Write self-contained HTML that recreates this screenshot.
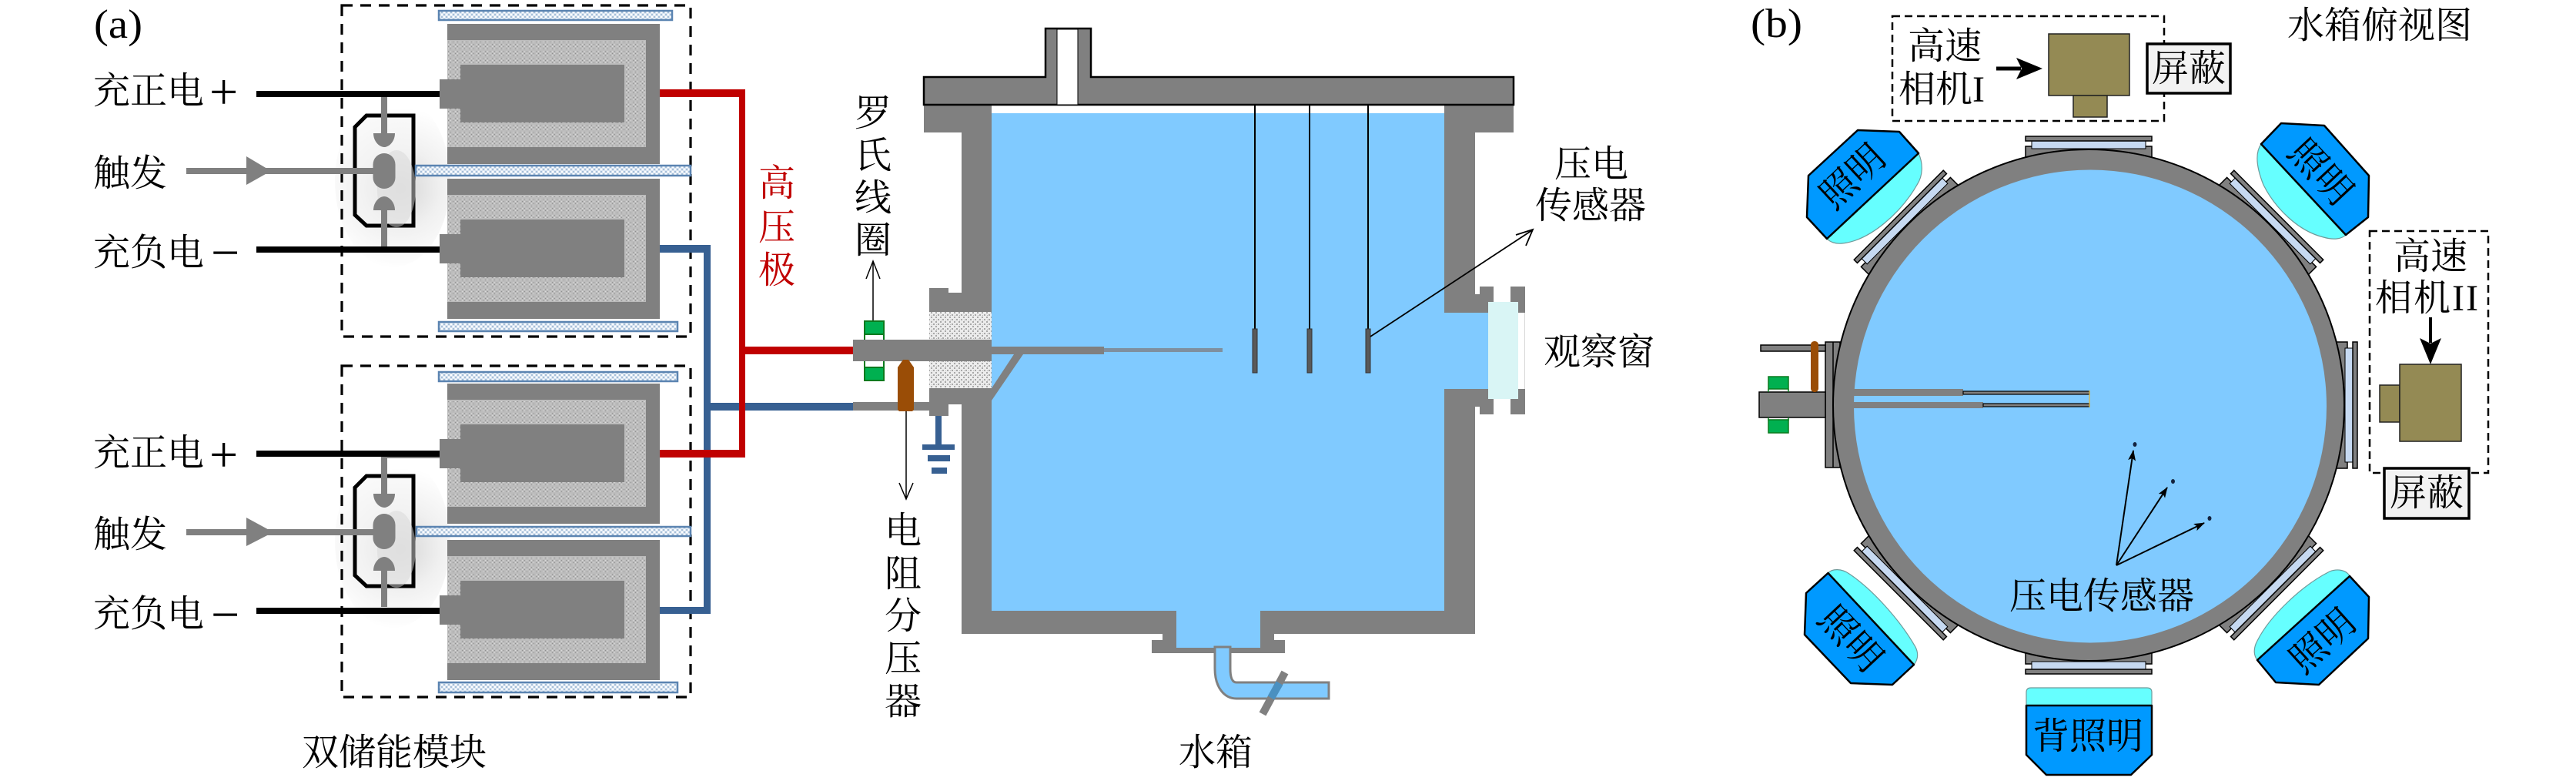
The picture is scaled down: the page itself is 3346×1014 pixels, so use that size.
<!DOCTYPE html>
<html lang="zh">
<head>
<meta charset="utf-8">
<title>Diagram</title>
<style>
html,body{margin:0;padding:0;background:#fff;width:3346px;height:1014px;overflow:hidden}
svg{display:block}
text{font-family:"Liberation Serif","Noto Serif CJK SC",serif;font-size:48px;fill:#000}
.r{fill:#c00000}
.m{font-size:66px}
</style>
</head>
<body>
<svg xmlns="http://www.w3.org/2000/svg" width="3346" height="1014" viewBox="0 0 3346 1014">
<defs>
<pattern id="hc" width="6" height="6" patternUnits="userSpaceOnUse">
<rect width="6" height="6" fill="#bcbcbc"/>
<rect x="0" y="0" width="1" height="1" fill="#8e8e8e"/><rect x="3" y="3" width="1" height="1" fill="#8e8e8e"/>
<rect x="3" y="0" width="1" height="1" fill="#dcdcdc"/><rect x="0" y="3" width="1" height="1" fill="#dcdcdc"/>
</pattern>
<pattern id="hs" width="6" height="6" patternUnits="userSpaceOnUse">
<rect width="6" height="6" fill="#dbe6f2"/>
<rect x="0" y="0" width="2" height="2" fill="#a7bfd8"/><rect x="3" y="3" width="2" height="2" fill="#a7bfd8"/>
<rect x="3" y="0" width="2" height="2" fill="#fff"/><rect x="0" y="3" width="2" height="2" fill="#fff"/>
</pattern>
<pattern id="hp" width="6" height="6" patternUnits="userSpaceOnUse">
<rect width="6" height="6" fill="#ececec"/>
<rect x="0" y="0" width="2" height="2" fill="#a8a8a8"/><rect x="3" y="3" width="2" height="2" fill="#a8a8a8"/>
<rect x="4" y="1" width="1" height="1" fill="#b8b8b8"/>
</pattern>
<radialGradient id="glow" cx="520" cy="245" r="105" gradientUnits="userSpaceOnUse">
<stop offset="0" stop-color="#d6d6d6"/><stop offset=".5" stop-color="#f0f0f0"/><stop offset="1" stop-color="#fff"/>
</radialGradient>
<g id="cap">
<rect x="581" y="31" width="276" height="182" fill="#808080"/>
<rect x="581" y="52" width="258" height="139" fill="url(#hc)"/>
<rect x="598" y="84" width="213" height="75" fill="#808080"/>
<rect x="571" y="103" width="27" height="38" fill="#808080"/>
</g>
<g id="sw">
<ellipse cx="510" cy="235" rx="75" ry="112" fill="url(#glow)"/>
<path d="M476,150H537V293H476L461,279V165Z" fill="#f6f6f6" fill-opacity=".5" stroke="#000" stroke-width="5"/>
<ellipse cx="515" cy="245" rx="25" ry="50" fill="#d8d8d8" fill-opacity=".5"/>
<rect x="495" y="126" width="8" height="48" fill="#808080"/>
<path d="M485,173H513C513,184 505,191 499,191C493,191 485,184 485,173Z" fill="#808080"/>
<rect x="484.500" y="199" width="29" height="46" rx="14.500" fill="#808080"/>
<path d="M485,273H513C513,262 505,255 499,255C493,255 485,262 485,273Z" fill="#808080"/>
<rect x="495" y="273" width="8" height="47" fill="#808080"/>
</g>
<g id="port">
<rect x="-82" y="-336" width="164" height="18" fill="#808080" stroke="#000" stroke-width="1.500"/>
<rect x="-74" y="-343" width="148" height="10" fill="#c6d9f1" stroke="#000" stroke-width="1"/>
<rect x="-82" y="-349" width="164" height="6" fill="#808080" stroke="#000" stroke-width="1.500"/>
</g>
<marker id="ah" viewBox="0 0 14 10" refX="13" refY="5" markerWidth="14" markerHeight="10" markerUnits="userSpaceOnUse" orient="auto">
<path d="M0,0L14,5L0,10L3,5Z" fill="#000"/>
</marker>
</defs>

<!-- PANEL A -->
<text x="122" y="49" style="font-size:53px" textLength="63" lengthAdjust="spacingAndGlyphs">(a)</text>

<use href="#sw"/>
<g transform="translate(0,468)"><use href="#sw"/></g>

<rect x="444" y="7" width="453" height="430" fill="none" stroke="#000" stroke-width="3.200" stroke-dasharray="14 10"/>
<rect x="444" y="475" width="453" height="430" fill="none" stroke="#000" stroke-width="3.200" stroke-dasharray="14 10"/>

<use href="#cap"/>
<g transform="translate(0,201)"><use href="#cap"/></g>
<g transform="translate(0,467)"><use href="#cap"/></g>
<g transform="translate(0,670)"><use href="#cap"/></g>

<g fill="url(#hs)" stroke="#5b84b1" stroke-width="2.500">
<rect x="570" y="14" width="303" height="12"/>
<rect x="540" y="215" width="357" height="13"/>
<rect x="570" y="418" width="310" height="12"/>
<rect x="570" y="483" width="310" height="12"/>
<rect x="541" y="684" width="356" height="12"/>
<rect x="570" y="886" width="310" height="13"/>
</g>

<g fill="#000">
<rect x="333" y="118" width="238" height="8"/>
<rect x="333" y="320" width="238" height="8"/>
<rect x="333" y="585" width="238" height="8"/>
<rect x="333" y="789" width="238" height="8"/>
</g>
<rect x="495" y="593" width="76" height="2" fill="#808080"/>

<g fill="#808080">
<rect x="242" y="218" width="243" height="8"/>
<path d="M320,203L352,222L320,240Z"/>
<rect x="242" y="687" width="243" height="8"/>
<path d="M320,672L355,691L320,709Z"/>
</g>

<g fill="#376092">
<rect x="857" y="318" width="66" height="10"/>
<rect x="914" y="318" width="9" height="478"/>
<rect x="857" y="788" width="66" height="9"/>
<rect x="914" y="523" width="194" height="10"/>
</g>
<g fill="#c00000">
<rect x="857" y="116" width="111" height="10"/>
<rect x="960" y="116" width="8" height="478"/>
<rect x="857" y="584" width="111" height="10"/>
<rect x="960" y="450" width="148" height="10"/>
</g>

<text x="121" y="134">充正电</text>
<text class="m" x="272" y="141">+</text>
<text x="121" y="241">触发</text>
<text x="121" y="344">充负电</text>
<text class="m" x="274" y="350">−</text>
<text x="121" y="604">充正电</text>
<text class="m" x="272" y="612">+</text>
<text x="121" y="710">触发</text>
<text x="121" y="813">充负电</text>
<text class="m" x="274" y="820">−</text>
<text x="392" y="993">双储能模块</text>

<text class="r" x="985" y="254">高</text>
<text class="r" x="985" y="311">压</text>
<text class="r" x="985" y="367">极</text>

<!-- TANK -->
<g fill="#808080">
<rect x="1200" y="137" width="88" height="35"/>
<rect x="1249" y="137" width="39" height="686"/>
<rect x="1876" y="137" width="90" height="35"/>
<rect x="1876" y="137" width="40" height="686"/>
<rect x="1249" y="793" width="667" height="30"/>
<path d="M1207,374H1232V380H1288V405H1207Z"/>
<path d="M1207,504H1288V525H1232V540H1207Z"/>
<rect x="1510" y="823" width="145" height="8"/>
<rect x="1496" y="831" width="173" height="17"/>
<rect x="1916" y="382" width="6" height="24"/>
<rect x="1922" y="372" width="18" height="34"/>
<rect x="1962" y="372" width="19" height="34"/>
<rect x="1916" y="505" width="65" height="13"/>
<rect x="1916" y="518" width="6" height="10"/>
<rect x="1922" y="518" width="18" height="20"/>
<rect x="1962" y="518" width="19" height="20"/>
<rect x="1916" y="392" width="65" height="14"/>
</g>
<rect x="1288" y="147" width="588" height="646" fill="#80caff"/>
<rect x="1876" y="406" width="57" height="99" fill="#80caff"/>
<rect x="1528" y="790" width="109" height="51" fill="#80caff"/>
<rect x="1933" y="392" width="39" height="126" fill="#d9f5f5"/>
<rect x="1972" y="406" width="9" height="99" fill="#fff"/>
<rect x="1980" y="406" width="1" height="99" fill="#d8d8d8"/>
<rect x="1207" y="405" width="81" height="36" fill="url(#hp)"/>
<rect x="1207" y="469" width="81" height="35" fill="url(#hp)"/>

<path d="M1200,100H1358V37H1417V100H1966V136H1200Z" fill="#808080" stroke="#000" stroke-width="2.500"/>
<rect x="1373" y="38" width="27" height="98" fill="#fff" stroke="#000" stroke-width="1"/>

<path d="M1578,840V868C1578,892 1590,907 1606,907H1726V886H1606C1600,886 1598,878 1598,868V840Z" fill="#80caff" stroke="#808080" stroke-width="3"/>
<path d="M1669,873L1640,927" stroke="#808080" stroke-width="10" fill="none"/>
<path d="M1662,887L1651,906" stroke="#4a90c0" stroke-width="10" fill="none"/>

<rect x="1108" y="441" width="180" height="28" fill="#808080"/>
<rect x="1288" y="450" width="146" height="10" fill="#808080"/>
<rect x="1434" y="452" width="154" height="5" fill="#7f8f9f"/>
<path d="M1288,504L1317,460H1329L1288,520Z" fill="#808080"/>
<rect x="1108" y="522" width="99" height="11" fill="#808080"/>

<rect x="1123" y="417" width="25" height="17" fill="#00b050" stroke="#0b7a1e" stroke-width="2"/>
<path d="M1123,434V441M1148,434V441M1123,469V477M1148,469V477" stroke="#0b7a1e" stroke-width="2" fill="none"/>
<rect x="1123" y="477" width="25" height="17" fill="#00b050" stroke="#0b7a1e" stroke-width="2"/>

<path d="M1166,477L1173,467H1180L1187,477V532L1185,534H1168L1166,532Z" fill="#9a4d06"/>

<g fill="#376092">
<rect x="1215" y="540" width="8" height="37"/>
<rect x="1198" y="577" width="42" height="7"/>
<rect x="1205" y="591" width="29" height="8"/>
<rect x="1210" y="607" width="20" height="8"/>
</g>

<g fill="none" stroke="#000" stroke-width="1.500">
<path d="M1134,416V339M1125,362L1134,339L1143,362"/>
<path d="M1177,534V648M1168,627L1177,648L1186,627"/>
</g>

<g stroke="#000" stroke-width="2" fill="none">
<path d="M1630,136V427M1701,136V427M1777,136V427"/>
</g>
<g fill="#595959" stroke="#333" stroke-width="1">
<rect x="1627" y="427" width="6" height="57"/>
<rect x="1698" y="427" width="6" height="57"/>
<rect x="1774" y="427" width="6" height="57"/>
</g>
<path d="M1780,437L1990,299M1969,305L1991,298L1982,319" fill="none" stroke="#000" stroke-width="1.800"/>

<text x="1110" y="163">罗</text>
<text x="1110" y="218">氏</text>
<text x="1110" y="273">线</text>
<text x="1110" y="328">圈</text>
<text x="1149" y="705">电</text>
<text x="1149" y="761">阻</text>
<text x="1149" y="816">分</text>
<text x="1149" y="871">压</text>
<text x="1149" y="927">器</text>
<text x="2019" y="229">压电</text>
<text x="1994" y="283">传感器</text>
<text x="2005" y="473">观察窗</text>
<text x="1531" y="993">水箱</text>

<!-- PANEL B -->
<text x="2274" y="48" style="font-size:53px" textLength="67" lengthAdjust="spacingAndGlyphs">(b)</text>
<text x="2971" y="49">水箱俯视图</text>

<rect x="2458" y="21" width="353" height="136" fill="none" stroke="#000" stroke-width="2.500" stroke-dasharray="10 6"/>
<text x="2478" y="76">高速</text>
<text x="2466" y="132">相机I</text>
<path d="M2593,89H2625" stroke="#000" stroke-width="5"/>
<path d="M2619,75L2653,89L2619,103L2626,89Z" fill="#000"/>
<rect x="2661" y="44" width="105" height="80" fill="#948a54" stroke="#222" stroke-width="1.500"/>
<rect x="2693" y="124" width="44" height="28" fill="#948a54" stroke="#222" stroke-width="1.500"/>
<rect x="2789" y="57" width="108" height="64" fill="#f2f2f2" stroke="#000" stroke-width="3.500"/>
<text x="2795" y="105">屏蔽</text>

<g transform="translate(2713,526)">
<use href="#port"/>
<use href="#port" transform="rotate(45)"/>
<use href="#port" transform="rotate(90)"/>
<use href="#port" transform="rotate(135)"/>
<use href="#port" transform="rotate(180)"/>
<use href="#port" transform="rotate(-135)"/>
<use href="#port" transform="rotate(-45)"/>
</g>

<rect x="2371" y="444" width="19" height="163" fill="#808080" stroke="#000" stroke-width="1.500"/>
<path d="M2381,444V607" stroke="#000" stroke-width="1.500"/>
<rect x="2287" y="448" width="84" height="8" fill="#808080" stroke="#000" stroke-width="1.500"/>
<rect x="2285" y="509" width="86" height="33" fill="#808080" stroke="#000" stroke-width="1.500"/>
<path d="M2297,505V509M2323,505V509M2297,542V546M2323,542V546" stroke="#0b7a1e" stroke-width="1.500"/>
<rect x="2297" y="489" width="26" height="16" fill="#00b050" stroke="#0b7a1e" stroke-width="1.500"/>
<rect x="2297" y="545" width="26" height="17" fill="#00b050" stroke="#0b7a1e" stroke-width="1.500"/>
<rect x="2352" y="443" width="10" height="66" rx="4.500" fill="#9a4d06"/>

<circle cx="2713" cy="526" r="332" fill="#808080" stroke="#000" stroke-width="2"/>
<circle cx="2715" cy="527.500" r="307" fill="#80caff"/>

<rect x="2405" y="505" width="145" height="9" fill="#808080"/>
<rect x="2550" y="508" width="164" height="4" fill="#808080" stroke="#000" stroke-width="1.200"/>
<rect x="2405" y="522" width="171" height="8" fill="#808080"/>
<rect x="2576" y="524" width="138" height="4" fill="#808080" stroke="#000" stroke-width="1.200"/>
<path d="M2714,507V529" stroke="#e8b830" stroke-width="1.200"/>

<g fill="#14233f">
<ellipse cx="2773" cy="577" rx="2.500" ry="3"/>
<ellipse cx="2822.500" cy="625" rx="2.500" ry="3"/>
<ellipse cx="2870" cy="673" rx="2.500" ry="3"/>
</g>
<g stroke="#000" stroke-width="2" fill="none">
<path d="M2749,734L2771,585" marker-end="url(#ah)"/>
<path d="M2749,734L2815,633" marker-end="url(#ah)"/>
<path d="M2749,734L2863,679" marker-end="url(#ah)"/>
</g>
<text x="2610" y="790">压电传感器</text>

<g fill="#66ffff" stroke="#6f9a9a" stroke-width="1.200">
<path d="M2492,199C2498,212 2498,228 2490,240C2470,275 2430,312 2393,316C2384,317 2377,314 2373,310Z"/>
<path d="M2937,187C2928,200 2932,220 2940,240C2955,270 2985,300 3018,308C3032,312 3042,310 3047,305Z"/>
<path d="M2374.500,744C2380,738 2392,738 2402,745C2432,765 2468,805 2488,840C2493,850 2490,858 2486,863Z"/>
<path d="M3052,748C3048,740 3036,738 3026,742C2990,760 2948,800 2932,832C2926,843 2928,852 2932,857Z"/>
<path d="M2632,916V899Q2632,893 2638,893H2789Q2795,893 2795,899V916Z"/>
</g>
<g fill="#0099ff" stroke="#000" stroke-width="2.500" stroke-linejoin="round">
<path d="M2413,169L2467,171L2492,199L2373,310L2347,282L2349,228Z"/>
<path d="M2963,160L3019,163L3077,228L3076,282L3047,305L2937,187Z"/>
<path d="M2374.500,744L2486,863L2458,889L2404,887L2344,824L2346,770Z"/>
<path d="M3052,748L3077,775L3076,829L3012,889L2956,886L2932,857Z"/>
<path d="M2632,916H2795V980L2768,1006H2658L2632,980Z"/>
</g>
<g text-anchor="middle">
<text transform="translate(2405,228) rotate(-43)" x="0" y="18">照明</text>
<text transform="translate(3015.500,222) rotate(47)" x="0" y="18">照明</text>
<text transform="translate(2405,828) rotate(47)" x="0" y="18">照明</text>
<text transform="translate(3015.500,831) rotate(-42)" x="0" y="18">照明</text>
</g>
<text x="2640" y="972">背照明</text>

<rect x="3078" y="300" width="154" height="314" fill="none" stroke="#000" stroke-width="2.500" stroke-dasharray="10 6"/>
<text x="3109" y="349">高速</text>
<text x="3085" y="403" letter-spacing="2">相机II</text>
<path d="M3157,412V445" stroke="#000" stroke-width="4"/>
<path d="M3143,439L3157,473L3171,439L3157,446Z" fill="#000"/>
<rect x="3091" y="500" width="26" height="48" fill="#948a54" stroke="#222" stroke-width="1.500"/>
<rect x="3117" y="473" width="80" height="100" fill="#948a54" stroke="#222" stroke-width="1.500"/>
<rect x="3097" y="608" width="110" height="65" fill="#f2f2f2" stroke="#000" stroke-width="3.500"/>
<text x="3104" y="656">屏蔽</text>
</svg>
</body>
</html>
